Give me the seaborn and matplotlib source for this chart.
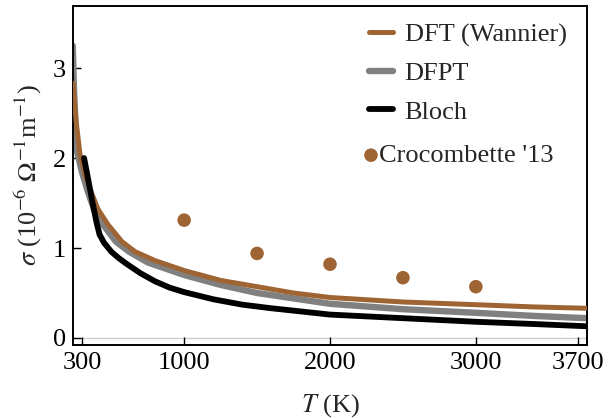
import matplotlib
matplotlib.use('Agg')
import matplotlib.pyplot as plt
import seaborn as sns
import pandas as pd

# DFT (Wannier)
T_WAN = [238, 260, 286, 320, 368, 410, 478, 574, 663, 800, 1000, 1250, 1500,
         1750, 2000, 2500, 3000, 3400, 3762]
S_WAN = [2.83, 2.40, 2.04, 1.82, 1.60, 1.43, 1.26, 1.07, 0.96, 0.86, 0.75,
         0.64, 0.57, 0.50, 0.45, 0.40, 0.37, 0.345, 0.33]

# DFPT
T_DFPT = [236, 245, 255, 266, 300, 341, 382, 444, 533, 622, 750, 1000, 1250,
          1500, 2000, 2500, 3000, 3400, 3762]
S_DFPT = [3.25, 2.75, 2.38, 2.07, 1.84, 1.62, 1.43, 1.26, 1.07, 0.96, 0.84,
          0.70, 0.59, 0.50, 0.38, 0.32, 0.28, 0.245, 0.22]

# Bloch
T_BLOCH = [314, 340, 370, 400, 420, 450, 500, 550, 600, 700, 800, 900, 1000,
           1200, 1400, 1600, 2000, 2500, 3000, 3400, 3762]
S_BLOCH = [2.00, 1.78, 1.52, 1.28, 1.15, 1.06, 0.96, 0.89, 0.83, 0.72, 0.63,
           0.56, 0.51, 0.43, 0.37, 0.33, 0.26, 0.22, 0.18, 0.155, 0.13]

# Crocombette '13
T_CROC = [1000, 1500, 2000, 2500, 3000]
S_CROC = [1.31, 0.94, 0.82, 0.67, 0.57]

X_TICKS = [300, 1000, 2000, 3000, 3700]
Y_TICKS = [0, 1, 2, 3]

BROWN = '#9f6434'
GRAY = '#808080'

sns.set_theme(style='white')
plt.rcParams['font.family'] = ['Liberation Serif', 'DejaVu Serif']
plt.rcParams['mathtext.fontset'] = 'stix'
FS = 19

fig, ax = plt.subplots(figsize=(6.08, 4.18), dpi=100)
fig.subplots_adjust(left=73 / 608, right=587 / 608, top=1 - 6 / 418, bottom=1 - 345 / 418)

ax.axhline(0, color='#d0d0d0', lw=1.0, zorder=0)

sns.lineplot(data=pd.DataFrame({'T': T_DFPT, 's': S_DFPT}), x='T', y='s', ax=ax,
             color=GRAY, lw=4.6, label='DFPT', zorder=2)
sns.lineplot(data=pd.DataFrame({'T': T_WAN, 's': S_WAN}), x='T', y='s', ax=ax,
             color=BROWN, lw=3.6, label='DFT (Wannier)', zorder=3)
sns.lineplot(data=pd.DataFrame({'T': T_BLOCH, 's': S_BLOCH}), x='T', y='s', ax=ax,
             color='black', lw=4.2, label='Bloch', zorder=4)
sns.scatterplot(data=pd.DataFrame({'T': T_CROC, 's': S_CROC}), x='T', y='s', ax=ax,
                color=BROWN, s=95, edgecolor='none', label="Crocombette '13", zorder=5)

ax.set_xlim(238, 3762)
ax.set_ylim(-0.078, 3.69)
ax.set_xticks(X_TICKS)
ax.set_yticks(Y_TICKS)
ax.tick_params(direction='in', length=6, width=1.0, labelsize=FS, colors='black',
               pad=5, top=False, right=False, bottom=True, left=True)
for sp in ax.spines.values():
    sp.set_color('black')
    sp.set_linewidth(1.4)

ax.set_xlabel(r'$T$ (K)', fontsize=FS, labelpad=13)
ax.set_ylabel(r'$\sigma$ (10$^{-6}$ $\Omega^{-1}$m$^{-1}$)', fontsize=FS, labelpad=6)

handles, labels = ax.get_legend_handles_labels()
hmap = dict(zip(labels, handles))
ax.get_legend().remove()
leg1 = ax.legend([hmap['DFT (Wannier)'], hmap['DFPT'], hmap['Bloch']],
                 ['DFT (Wannier)', 'DFPT', 'Bloch'],
                 loc='upper left', bbox_to_anchor=(0.576, 0.951), frameon=False,
                 fontsize=FS, handlelength=0.9, handletextpad=0.45,
                 labelspacing=0.57, borderpad=0, borderaxespad=0)
ax.add_artist(leg1)
ax.legend([hmap["Crocombette '13"]], ["Crocombette '13"],
          loc='upper left', bbox_to_anchor=(0.572, 0.594), frameon=False,
          fontsize=FS, handlelength=0.3, handletextpad=0.15,
          borderpad=0, borderaxespad=0, scatterpoints=1)

fig.savefig('out.png', dpi=100)
